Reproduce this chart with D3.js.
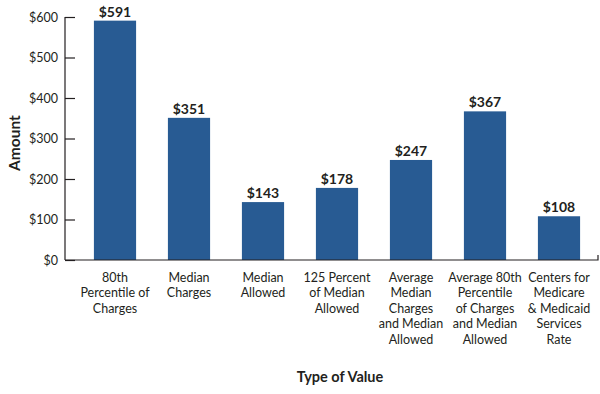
<!DOCTYPE html>
<html lang="en">
<head>
  <meta charset="utf-8">
  <title>Amount by Type of Value</title>
  <script src="https://d3js.org/d3.v7.min.js"></script>
  <style>
    body { margin: 0; background: #fff; }
    svg text { font-family: Lato, "Open Sans", sans-serif; fill: #231f20; }
  </style>
</head>
<body>
<svg id="chart" width="600" height="394"></svg>
<script>
// data
var categories = [
  ["80th", "Percentile of", "Charges"],
  ["Median", "Charges"],
  ["Median", "Allowed"],
  ["125 Percent", "of Median", "Allowed"],
  ["Average", "Median", "Charges", "and Median", "Allowed"],
  ["Average 80th", "Percentile", "of Charges", "and Median", "Allowed"],
  ["Centers for", "Medicare", "& Medicaid", "Services", "Rate"]
];
var values = [591, 351, 143, 178, 247, 367, 108];
var yTicks = [0, 100, 200, 300, 400, 500, 600];

var svg = d3.select("#chart");
var x0 = 65, x1 = 598, yTop = 17, yBase = 260;

var x = d3.scaleBand()
    .domain(d3.range(values.length))
    .range([78, 596])
    .paddingInner(0.43)
    .paddingOuter(0.215);

var y = d3.scaleLinear().domain([0, 600]).range([yBase, yTop]);

// y axis, ticks point inward
var yAxis = svg.append("g").attr("transform", "translate(" + x0 + ",0)")
    .call(d3.axisRight(y).tickValues(yTicks).tickSize(10).tickFormat(function(d) { return "$" + d; }));
yAxis.select(".domain").remove();
yAxis.selectAll("line").attr("stroke", "#231f20").attr("stroke-width", 1.2);
yAxis.selectAll("text").attr("x", -7).attr("text-anchor", "end")
    .style("font-size", "12.5px");

svg.append("line").attr("x1", x0).attr("x2", x0).attr("y1", yTop).attr("y2", yBase)
    .attr("stroke", "#231f20").attr("stroke-width", 1.2);

// bars
svg.selectAll("rect.bar").data(values).enter().append("rect")
    .attr("class", "bar")
    .attr("x", function(d, i) { return x(i); })
    .attr("y", function(d) { return y(d); })
    .attr("width", x.bandwidth())
    .attr("height", function(d) { return yBase - y(d); })
    .attr("fill", "#285b93");

// baseline
svg.append("path")
    .attr("d", "M" + x0 + "," + yBase + "H" + x1 + "V" + (yBase - 5))
    .attr("fill", "none").attr("stroke", "#231f20").attr("stroke-width", 1.2);

// value labels
svg.selectAll("text.val").data(values).enter().append("text")
    .attr("class", "val")
    .attr("x", function(d, i) { return x(i) + x.bandwidth() / 2; })
    .attr("y", function(d) { return y(d) - 4; })
    .attr("text-anchor", "middle")
    .style("font-size", "14px").style("font-weight", "bold")
    .text(function(d) { return "$" + d; });

// category labels
var cat = svg.selectAll("text.cat").data(categories).enter().append("text")
    .attr("class", "cat")
    .attr("x", function(d, i) { return x(i) + x.bandwidth() / 2; })
    .attr("y", 282)
    .attr("text-anchor", "middle")
    .style("font-size", "12.5px");
cat.selectAll("tspan").data(function(d) { return d; }).enter().append("tspan")
    .attr("x", function() { return d3.select(this.parentNode).attr("x"); })
    .attr("dy", function(d, i) { return i === 0 ? 0 : 15.4; })
    .text(function(d) { return d; });

// axis titles
svg.append("text").attr("x", 340).attr("y", 382).attr("text-anchor", "middle")
    .style("font-size", "14.5px").style("font-weight", "bold").text("Type of Value");
svg.append("text").attr("transform", "translate(20,143) rotate(-90)").attr("text-anchor", "middle")
    .style("font-size", "15.5px").style("font-weight", "bold").text("Amount");
</script>
</body>
</html>
